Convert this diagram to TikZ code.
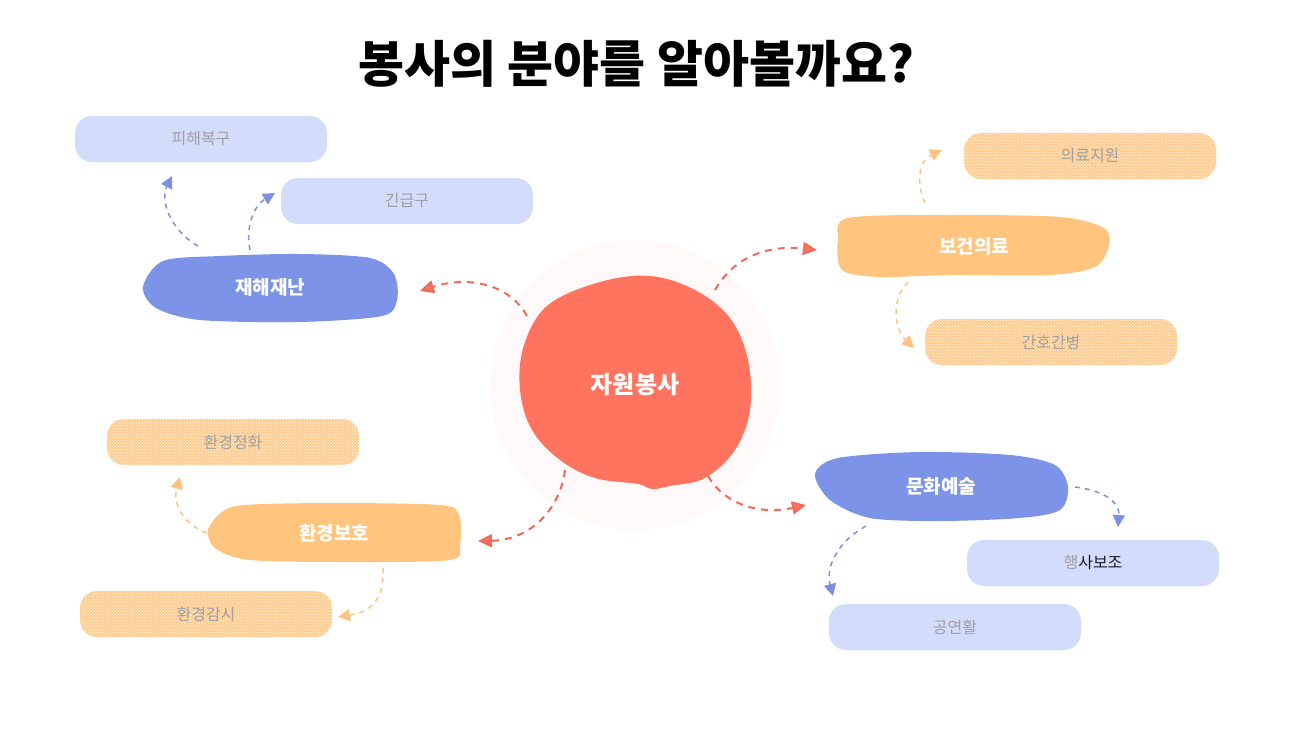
\documentclass[tikz,border=0pt]{standalone}
\usepackage{fontspec}
\setmainfont{Noto Sans CJK KR}
\usetikzlibrary{arrows.meta,patterns,calc}
\definecolor{coral}{HTML}{FF735F}
\definecolor{halo}{HTML}{FFFAF9}
\definecolor{bblue}{HTML}{7C93E8}
\definecolor{lav}{HTML}{D4DCFC}
\definecolor{orng}{HTML}{FFC47D}
\definecolor{orlt}{HTML}{FFCC8E}
\definecolor{redarr}{HTML}{F06A5C}
\definecolor{bluarr}{HTML}{7C8FE0}
\definecolor{orarr}{HTML}{FFC27E}
\definecolor{leaftext}{HTML}{A0A0A0}
\definecolor{darktext}{HTML}{1A1A2E}
\tikzset{
  x=1pt,y=-1pt,
  mainbox/.style={minimum width=#1, inner sep=0pt, text=white, font=\fontsize{19}{23}\selectfont\bfseries},
  leafbase/.style={rounded corners=17pt, minimum width=252pt, minimum height=46pt, inner sep=0pt, text=leaftext, font=\fontsize{16}{20}\selectfont},
  leafblue/.style={leafbase, fill=lav},
  leafdot/.style={leafbase, fill=orlt, postaction={pattern=crosshatch dots, pattern color=white}},
  redcon/.style={draw=redarr, line width=2pt, dash pattern=on 7pt off 6pt, -{Triangle[length=14pt,width=13pt,fill=coral]}},
  bluecon/.style={draw=bluarr, line width=1.5pt, dash pattern=on 5pt off 5pt, -{Triangle[length=12pt,width=12pt]}},
  orcon/.style={draw=orarr, line width=1.5pt, dash pattern=on 5pt off 5pt, -{Triangle[length=12pt,width=12pt]}},
}
\begin{document}
\begin{tikzpicture}
\useasboundingbox (0,0) rectangle (1306,733);
\fill[white] (0,0) rectangle (1306,733);
% title
\node[font=\fontsize{50}{60}\selectfont\bfseries, text=black] (title) at (636,64) {봉사의 분야를 알아볼까요?};
% halo
\fill[halo] (635,385) circle (145);
% center blob
\fill[coral] plot[smooth cycle, tension=0.6] coordinates {(600,282) (650,276) (695,290) (730,318) (748,360) (750,410) (735,450) (705,478) (670,486) (652,489) (638,484) (595,478) (560,460) (532,430) (520,390) (524,345) (548,305)};
\node[inner sep=0pt, minimum width=230pt, minimum height=210pt, text=white, font=\fontsize{24}{28}\selectfont\bfseries] (c) at (635,385) {자원봉사};
% main blobs
\fill[bblue] plot[smooth cycle, tension=0.5] coordinates {(163,261) (220,256) (300,254) (370,258) (394,274) (397,300) (382,316) (300,322) (200,320) (156,308) (143,287)};
\node[mainbox=255pt, minimum height=69pt] (jh) at (270,287) {재해재난};
\fill[orng] plot[smooth cycle, tension=0.5] coordinates {(848,218) (950,215) (1060,217) (1104,228) (1109,246) (1095,267) (1050,275) (950,275) (880,277) (842,270) (838,240)};
\node[mainbox=272pt, minimum height=63pt] (bg) at (974,246) {보건의료};
\fill[orng] plot[smooth cycle, tension=0.5] coordinates {(245,505) (330,503) (440,505) (459,515) (460,545) (450,560) (350,562) (250,560) (215,548) (208,530) (222,512)};
\node[mainbox=253pt, minimum height=60pt] (hb) at (334,533) {환경보호};
\fill[bblue] plot[smooth cycle, tension=0.5] coordinates {(838,458) (920,452) (1010,455) (1055,465) (1068,487) (1060,510) (1020,518) (940,521) (870,518) (830,500) (815,474)};
\node[mainbox=253pt, minimum height=69pt] (mh) at (941,486) {문화예술};
% leaves
\node[leafblue] (pb) at (201,139) {피해복구};
\node[leafblue] (gg) at (407,201) {긴급구};
\node[leafdot] (ui) at (1090,156) {의료지원};
\node[leafdot] (gh) at (1051,342) {간호간병};
\node[leafdot] (hj) at (233,442) {환경정화};
\node[leafdot] (hg) at (206,614) {환경감시};
\node[leafblue] (hs) at (1093,563) {행\textcolor{darktext}{사보조}};
\node[leafblue] (gy) at (955,627) {공연활};
% connectors from center
\draw[redcon] ([shift={(-108,-69)}]c.center) .. controls +(-17,-31) and +(50,-16) .. ([shift={(150,4)}]jh.center);
\draw[redcon] ([shift={(80,-95)}]c.center) .. controls +(20,-35) and +(-47,-5) .. ([shift={(-157,4)}]bg.center);
\draw[redcon] ([shift={(-70,85)}]c.center) .. controls +(-5,40) and +(52,-1) .. ([shift={(144,8)}]hb.center);
\draw[redcon] ([shift={(73,91)}]c.center) .. controls +(17,29) and +(-46,10) .. ([shift={(-135,19)}]mh.center);
% sub connectors
\draw[bluecon] ([shift={(-72,-41)}]jh.center) .. controls +(-28,-16) and +(-12,24) .. ([shift={(-29,37)}]pb.center);
\draw[bluecon] ([shift={(-20,-37)}]jh.center) .. controls +(-5,-25) and +(-20,12) .. ([shift={(-132,-8)}]gg.center);
\draw[orcon] ([shift={(-49,-43)}]bg.center) .. controls +(-10,-23) and +(-22,10) .. ([shift={(-148,-6)}]ui.center);
\draw[orcon] ([shift={(-66,36)}]bg.center) .. controls +(-18,18) and +(-19,-18) .. ([shift={(-137,6)}]gh.center);
\draw[orcon] ([shift={(-127,0)}]hb.center) .. controls +(-22,-8) and +(-8,28) .. ([shift={(-53,35)}]hj.center);
\draw[orcon] ([shift={(49,35)}]hb.center) .. controls +(2,32) and +(32,-5) .. ([shift={(132,3)}]hg.center);
\draw[bluecon] ([shift={(134,1)}]mh.center) .. controls +(25,3) and +(2,-27) .. ([shift={(25,-36)}]hs.center);
\draw[bluecon] ([shift={(-75,40)}]mh.center) .. controls +(-26,14) and +(-8,-31) .. ([shift={(-122,-31)}]gy.center);
\end{tikzpicture}
\end{document}
